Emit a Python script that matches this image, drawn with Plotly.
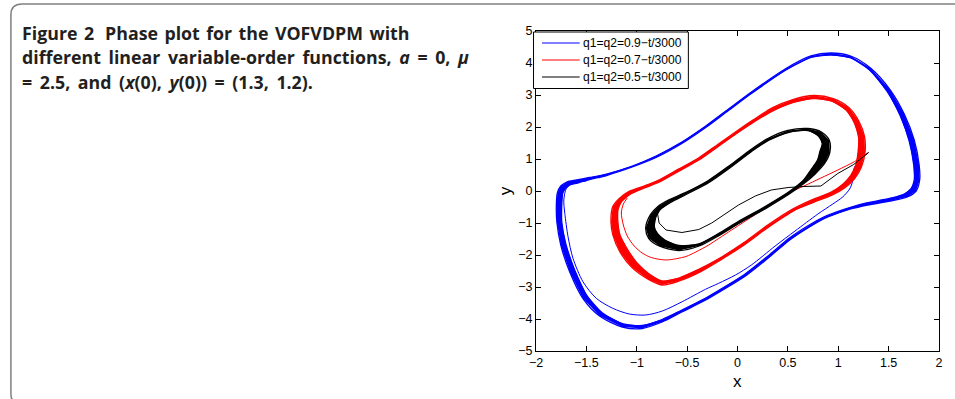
import plotly.graph_objects as go

# ---------------- data ----------------
x_tick_vals = [-2, -1.5, -1, -0.5, 0, 0.5, 1, 1.5, 2]
x_tick_text = ["\u22122", "\u22121.5", "\u22121", "\u22120.5", "0", "0.5", "1", "1.5", "2"]
y_tick_vals = [-5, -4, -3, -2, -1, 0, 1, 2, 3, 4, 5]
y_tick_text = ["\u22125", "\u22124", "\u22123", "\u22122", "\u22121", "0", "1", "2", "3", "4", "5"]

series_names = ["q1=q2=0.9\u2212t/3000", "q1=q2=0.7\u2212t/3000", "q1=q2=0.5\u2212t/3000"]

# q = 0.9 - t/3000 : transient from (1.3, 1.2)
blue_tr_x = [1.300, 1.212, 1.163, 1.143, 1.143, 1.113, 1.044, 0.946, 0.798, 0.571, 0.374, 0.138, -0.020,
             -0.187, -0.318, -0.549, -0.746, -0.910, -1.074, -1.238, -1.402, -1.534, -1.633, -1.682,
             -1.714, -1.724, -1.698, -1.633, -1.501]
blue_tr_y = [1.20, 0.969, 0.75, 0.50, 0.3125, 0.0625, -0.1875, -0.406, -0.719, -1.25, -1.719, -2.3125, -2.625,
             -2.884, -3.072, -3.459, -3.75, -3.875, -3.844, -3.666, -3.353, -2.834, -2.103, -1.428,
             -0.697, -0.281, 0.084, 0.241, 0.3125]
# limit-cycle band: outermost and innermost passes
blue_out_x = [-1.798, -1.788, -1.754, -1.695, -1.596, -1.468, -1.300, -1.044, -0.808, -0.552, -0.315, -0.089,
              0.138, 0.473, 0.729, 0.926, 1.123, 1.320, 1.517, 1.655, 1.754, 1.803, 1.808, 1.773, 1.685,
              1.517, 1.291, 1.123, 0.897, 0.798, 0.532, 0.305, 0.079, -0.187, -0.315, -0.552, -0.749,
              -0.946, -1.143, -1.369, -1.537, -1.665, -1.754, -1.793]
blue_out_y = [-0.4375, -0.0625, 0.156, 0.281, 0.344, 0.422, 0.531, 0.781, 1.094, 1.531, 2.031, 2.5625,
              3.094, 3.8125, 4.219, 4.3125, 4.219, 3.844, 3.156, 2.406, 1.594, 0.8125, 0.344, 0.0, -0.1875,
              -0.3125, -0.4375, -0.5625, -0.8125, -0.969, -1.5, -2.094, -2.656, -3.172, -3.406, -3.781, -4.094,
              -4.297, -4.25, -3.906, -3.344, -2.531, -1.6875, -0.969]
blue_in_x = [-1.744, -1.734, -1.704, -1.665, -1.586, -1.468, -1.300, -1.044, -0.808, -0.552, -0.315, -0.089,
             0.138, 0.473, 0.729, 0.926, 1.123, 1.310, 1.488, 1.616, 1.704, 1.749, 1.754, 1.724, 1.655,
             1.507, 1.281, 1.113, 0.887, 0.788, 0.522, 0.296, 0.069, -0.197, -0.325, -0.552, -0.749,
             -0.946, -1.133, -1.340, -1.498, -1.616, -1.704, -1.744]
blue_in_y = [-0.4375, -0.0625, 0.094, 0.1875, 0.25, 0.359, 0.484, 0.75, 1.047, 1.484, 1.984, 2.516,
             3.047, 3.766, 4.172, 4.25, 4.156, 3.781, 3.094, 2.344, 1.5625, 0.8125, 0.344, 0.078, -0.094,
             -0.234, -0.375, -0.516, -0.766, -0.922, -1.453, -2.047, -2.609, -3.125, -3.359, -3.719, -4.016,
             -4.203, -4.156, -3.8125, -3.25, -2.469, -1.656, -0.969]

# q = 0.7 - t/3000
red_tr_x = [1.300, 1.163, 0.995, 0.828, 0.660, 0.502, 0.355, 0.207, 0.079, -0.059, -0.187, -0.286, -0.414,
            -0.512, -0.709, -0.857, -0.946, -1.025, -1.094, -1.133, -1.153, -1.133, -1.094]
red_tr_y = [1.20, 0.922, 0.656, 0.406, 0.156, -0.0625, -0.344, -0.672, -0.9375, -1.219, -1.484, -1.6875,
            -1.906, -2.047, -2.156, -2.078, -1.9375, -1.719, -1.406, -1.0625, -0.6875, -0.406, -0.219]
red_out_x = [-1.256, -1.239, -1.176, -1.080, -0.929, -0.782, -0.586, -0.390, -0.193, 0.004, 0.153, 0.349,
             0.549, 0.759, 0.950, 1.107, 1.204, 1.261, 1.266, 1.230, 1.163, 1.066, 0.942, 0.755, 0.557,
             0.311, 0.074, -0.182, -0.379, -0.579, -0.749, -0.884, -1.047, -1.167, -1.236]
red_out_y = [-0.969, -0.494, -0.238, -0.019, 0.156, 0.344, 0.684, 1.025, 1.4625, 1.90, 2.216, 2.605,
             2.859, 2.984, 2.8875, 2.606, 2.1875, 1.697, 1.208, 0.753, 0.39, 0.106, -0.12, -0.355, -0.62,
             -1.12, -1.667, -2.183, -2.544, -2.8125, -2.9375, -2.762, -2.394, -1.906, -1.386]
red_in_x = [-1.187, -1.185, -1.149, -1.068, -0.923, -0.774, -0.576, -0.378, -0.181, 0.016, 0.163, 0.361,
            0.555, 0.759, 0.941, 1.080, 1.160, 1.202, 1.197, 1.174, 1.123, 1.042, 0.930, 0.743, 0.547,
            0.300, 0.064, -0.192, -0.389, -0.583, -0.749, -0.869, -1.002, -1.100, -1.167]
red_in_y = [-0.969, -0.569, -0.325, -0.106, 0.094, 0.281, 0.628, 0.975, 1.4125, 1.85, 2.159, 2.52,
            2.766, 2.891, 2.80, 2.519, 2.125, 1.678, 1.23, 0.809, 0.484, 0.206, -0.036, -0.27, -0.567,
            -1.067, -1.614, -2.13, -2.456, -2.719, -2.8125, -2.6125, -2.231, -1.781, -1.364]

# q = 0.5 - t/3000
black_tr_x = [1.300, 1.153, 0.995, 0.828, 0.660, 0.502, 0.335, 0.177, 0.010, -0.118, -0.256, -0.384,
              -0.552, -0.709, -0.778, -0.793, -0.768]
black_tr_y = [1.20, 0.828, 0.547, 0.156, 0.141, 0.109, 0.031, -0.156, -0.4375, -0.719, -1.0, -1.203,
              -1.297, -1.219, -1.0, -0.719, -0.531]
black_out_x = [-0.911, -0.864, -0.790, -0.676, -0.518, -0.293, -0.068, 0.130, 0.300, 0.500, 0.701, 0.833,
               0.912, 0.916, 0.861, 0.771, 0.672, 0.510, 0.283, 0.017, -0.181, -0.381, -0.581, -0.772, -0.882]
black_out_y = [-1.156, -0.739, -0.481, -0.270, -0.052, 0.322, 0.819, 1.29, 1.636, 1.891, 1.953, 1.844,
               1.581, 1.203, 0.844, 0.533, 0.2625, -0.103, -0.542, -1.009, -1.386, -1.719, -1.859, -1.725, -1.477]
black_in_x = [-0.823, -0.811, -0.767, -0.664, -0.510, -0.283, -0.056, 0.140, 0.307, 0.503, 0.699, 0.803,
              0.841, 0.818, 0.794, 0.727, 0.652, 0.500, 0.274, 0.007, -0.189, -0.385, -0.581, -0.725, -0.793]
black_in_y = [-1.156, -0.823, -0.581, -0.355, -0.109, 0.268, 0.769, 1.236, 1.580, 1.828, 1.890, 1.719,
              1.481, 1.234, 0.969, 0.655, 0.330, -0.049, -0.486, -0.955, -1.330, -1.656, -1.703, -1.525, -1.336]

# ---------------- figure ----------------
colors = ["#0000ff", "#ff0000", "#000000"]
series = [
    (blue_tr_x, blue_tr_y, blue_out_x, blue_out_y, blue_in_x, blue_in_y, "spline"),
    (red_tr_x, red_tr_y, red_out_x, red_out_y, red_in_x, red_in_y, "spline"),
    (black_tr_x, black_tr_y, black_out_x, black_out_y, black_in_x, black_in_y, "linear"),
]

fig = go.Figure()
for name, col, (tx, ty, ox, oy, ix, iy, tshape) in zip(series_names, colors, series):
    ring_x = ox + [ox[0]] + [ix[0]] + ix[::-1]
    ring_y = oy + [oy[0]] + [iy[0]] + iy[::-1]
    fig.add_trace(go.Scatter(x=ring_x, y=ring_y, mode="lines", fill="toself", fillcolor=col,
                             line=dict(width=0, color=col), showlegend=False, hoverinfo="skip",
                             legendgroup=name))
    for lx, ly in ((ox, oy), (ix, iy)):
        fig.add_trace(go.Scatter(x=lx + [lx[0]], y=ly + [ly[0]], mode="lines",
                                 line=dict(color=col, width=1.3, shape="spline", smoothing=0.8),
                                 showlegend=False, hoverinfo="skip", legendgroup=name))
    fig.add_trace(go.Scatter(x=tx, y=ty, mode="lines", name=name, legendgroup=name, showlegend=False,
                             line=dict(color=col, width=1.0, shape=tshape, smoothing=0.8)))

axis_font = dict(family="Liberation Sans, Arial, sans-serif", size=12.5, color="#000000")
common_axis = dict(showline=True, linecolor="#000000", linewidth=1, mirror="ticks", ticks="inside",
                   ticklen=5, tickwidth=1, tickcolor="#000000", showgrid=False, zeroline=False,
                   tickfont=axis_font)
fig.update_xaxes(range=[-2, 2], tickvals=x_tick_vals, ticktext=x_tick_text, **common_axis)
fig.update_yaxes(range=[-5, 5], tickvals=y_tick_vals, ticktext=y_tick_text, **common_axis)

L, R, T, B = 536, 13, 31, 48
PW, PH = 955 - L - R, 399 - T - B


def px(xp):
    return (xp - L) / PW


def py(yp):
    return (399 - B - yp) / PH


title_font = dict(family="Open Sans, Noto Sans, sans-serif", size=17.8, color="#231f20")
sp = " \u2006"   # word space of the justified caption
sp1 = " \u200a"
title_lines = [
    "<b>Figure" + sp1 + "2\u00a0" + sp1 + "Phase" + sp1 + "plot" + sp1 + "for" + sp1 + "the" + sp1 + "VOFVDPM"
    + sp1 + "with</b>",
    "<b>different" + sp + "linear" + sp + "variable-order" + sp + "functions," + sp + "<i>a</i>" + sp + "="
    + sp + "0," + sp + "<i>\u03bc</i></b>",
    "<b>=" + sp + "2.5," + sp + "and" + sp + "(<i>x</i>(0)," + sp + "<i>y</i>(0))" + sp + "=" + sp
    + "(1.3," + sp + "1.2).</b>",
]
annotations = []
for line, yc in zip(title_lines, [33, 57, 82]):
    annotations.append(dict(text=line, xref="paper", yref="paper", x=px(16), y=py(yc),
                            xanchor="left", yanchor="middle", showarrow=False, font=title_font))
annotations.append(dict(text="x", xref="paper", yref="paper", x=0.5, y=py(381), xanchor="center",
                        yanchor="middle", showarrow=False,
                        font=dict(family="Liberation Sans, Arial, sans-serif", size=17, color="#000")))
annotations.append(dict(text="y", xref="paper", yref="paper", x=px(505), y=0.5, xanchor="center",
                        yanchor="middle", showarrow=False, textangle=-90,
                        font=dict(family="Liberation Sans, Arial, sans-serif", size=17, color="#000")))

# card border and MATLAB-style legend box
shapes = [dict(type="path", xref="paper", yref="paper",
               path=(f"M {px(960)},{py(4)} L {px(18)},{py(4)} Q {px(7)},{py(4)} {px(7)},{py(15)} "
                     f"L {px(7)},{py(394)} Q {px(7)},{py(403)} {px(16)},{py(403)} L {px(960)},{py(403)}"),
               line=dict(color="#808080", width=1.5), layer="below"),
          dict(type="rect", xref="paper", yref="paper", x0=px(533.5), x1=px(689.5), y0=py(32), y1=py(88.5),
               line=dict(color="#000000", width=1), fillcolor="#ffffff", layer="above")]
for name, col, yc in zip(series_names, colors, [43, 60, 77]):
    shapes.append(dict(type="line", xref="paper", yref="paper", x0=px(542), x1=px(580), y0=py(yc), y1=py(yc),
                       line=dict(color=col, width=1.2), layer="above"))
    annotations.append(dict(text=name, xref="paper", yref="paper", x=px(581.5), y=py(yc), xanchor="left",
                            yanchor="middle", showarrow=False,
                            font=dict(family="Liberation Sans, Arial, sans-serif", size=12.1, color="#000")))

fig.update_layout(
    width=955, height=399,
    margin=dict(l=L, r=R, t=T, b=B, pad=0),
    paper_bgcolor="#ffffff", plot_bgcolor="#ffffff",
    showlegend=False,
    annotations=annotations,
    shapes=shapes,
)

fig.write_html("out.html")
